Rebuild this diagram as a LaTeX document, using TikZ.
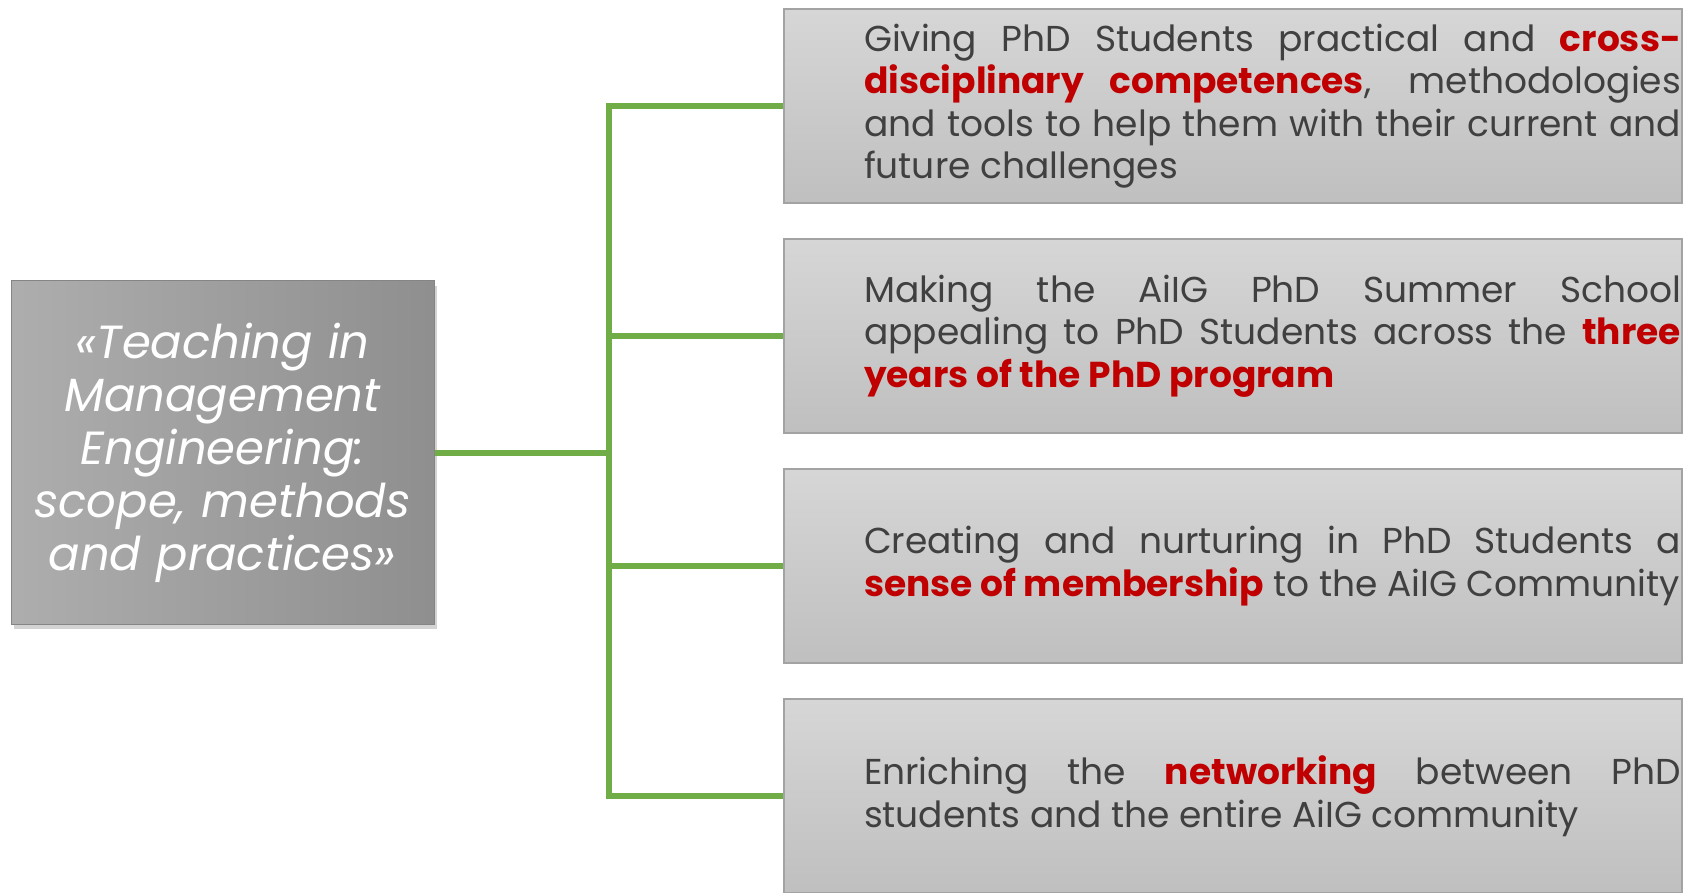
\documentclass[tikz,border=0pt]{standalone}
\usepackage{fontspec}
\setmainfont{Poppins}
\newfontfamily\goalfont{Poppins}
\usepackage{tikz}
\usetikzlibrary{positioning,shadows}
\definecolor{branchgreen}{HTML}{70AD47}
\definecolor{keyred}{HTML}{C00000}
\definecolor{goaltext}{HTML}{404040}
\newcommand{\keyword}[1]{\textcolor{keyred}{\bfseries #1}}
\tikzstyle{titlebox} = [rectangle, minimum width=423pt, minimum height=343pt, left color=black!32, right color=black!44, draw=black!48, line width=1pt, text=white, text width=415pt, align=center, font=\fontsize{46.5}{53}\selectfont\itshape, drop shadow={shadow xshift=3pt, shadow yshift=-5pt, opacity=0.35}]
\tikzstyle{goalbox} = [rectangle, minimum width=898pt, minimum height=194pt, top color=black!16, bottom color=black!25, draw=black!36, line width=1.2pt, text=goaltext, text width=896pt, inner xsep=1pt, align=justify, font=\goalfont\fontsize{36}{42.5}\selectfont, execute at begin node=\setlength{\leftskip}{79pt}]
\tikzstyle{branch} = [line width=6pt, draw=branchgreen]

\begin{document}
\begin{tikzpicture}[x=1pt, y=1pt, node distance=230pt]
\useasboundingbox (0,0) rectangle (1694,-893);
\node (title) [titlebox] at (222.5,-452.5) {«Teaching in\\Management\\Engineering:\\scope, methods\\and practices»};
\node (goal1) [goalbox] at (1233,-106) {Giving PhD Students practical and \keyword{cross-}\linebreak \keyword{disciplinary competences}, methodologies\linebreak and tools to help them with their current and\linebreak future challenges};
\node (goal2) [goalbox, below of=goal1] {Making the AiIG PhD Summer School\linebreak appealing to PhD Students across the \keyword{three}\linebreak \keyword{years of the PhD program}};
\node (goal3) [goalbox, below of=goal2] {Creating and nurturing in PhD Students a\linebreak \keyword{sense of membership} to the AiIG Community};
\node (goal4) [goalbox, below of=goal3] {Enriching the \keyword{networking} between PhD\linebreak students and the entire AiIG community};
\coordinate (trunk) at (609,0);

\draw [branch] (goal1.west) -| (trunk |- goal4.west) -- (goal4.west);
\draw [branch] (title.east) -- (title.east -| trunk);
\draw [branch] (trunk |- goal2.west) -- (goal2.west);
\draw [branch] (trunk |- goal3.west) -- (goal3.west);
\end{tikzpicture}
\end{document}
